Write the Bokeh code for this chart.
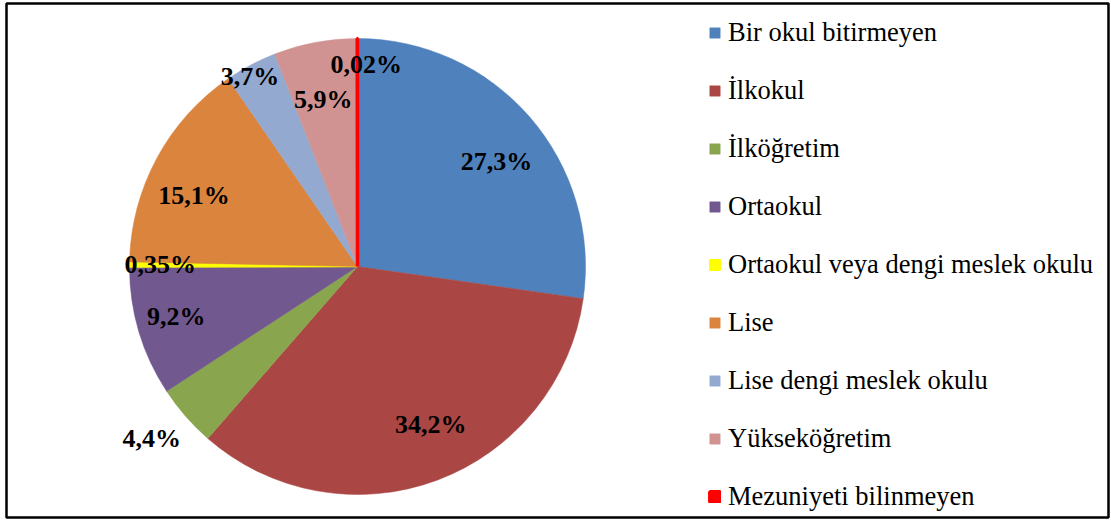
import numpy as np
import pandas as pd
from bokeh.plotting import figure
from bokeh.models import ColumnDataSource, Range1d, Legend, LegendItem
from bokeh.core.properties import value
from bokeh.embed import file_html
from bokeh.resources import INLINE

categories = ["Bir okul bitirmeyen", "İlkokul", "İlköğretim", "Ortaokul",
              "Ortaokul veya dengi meslek okulu", "Lise", "Lise dengi meslek okulu",
              "Yükseköğretim", "Mezuniyeti bilinmeyen"]
values = [27.3, 34.2, 4.4, 9.2, 0.35, 15.1, 3.7, 5.9, 0.02]
labels = ["27,3%", "34,2%", "4,4%", "9,2%", "0,35%", "15,1%", "3,7%", "5,9%", "0,02%"]

colors = ["#4F81BD", "#AA4643", "#89A54E", "#71588F", "#FFFF00",
          "#DB843D", "#93A9CF", "#D19392", "#FF0000"]
line_widths = [0.5, 0.5, 0.5, 0.5, 1.5, 0.5, 0.5, 0.5, 3.5]
label_radius_frac = [0.76, 0.77, 1.18, 0.82, 0.87, 0.78, 0.96, 0.74, 0.88]
label_dx = [8, 12, -3, -2, 1, -7, -5, -3, 9]
label_dy = [9, -7, -5, -4, 0, 13, 3, -1, -1]

FONT = "Liberation Serif"

W, H = 1111, 520
BL, BT, BR, BB = 6, 3, 3, 3
cx, cy, R = 357, -266, 228

df = pd.DataFrame({"cat": categories, "val": values, "label": labels,
                   "color": colors, "lw": line_widths})
frac = df["val"] / df["val"].sum()
cum = frac.cumsum()
prev = cum - frac
df["start"] = np.pi / 2 - cum * 2 * np.pi
df["end"] = np.pi / 2 - prev * 2 * np.pi
mid = np.pi / 2 - (prev + frac / 2) * 2 * np.pi
rf = np.array(label_radius_frac)
df["lx"] = cx + R * rf * np.cos(mid) + np.array(label_dx)
df["ly"] = cy + R * rf * np.sin(mid) - np.array(label_dy)
df["x"] = cx
df["y"] = cy

src = ColumnDataSource(df)

p = figure(width=W, height=H, output_backend="svg", toolbar_location=None,
           x_range=Range1d(BL, W - BR), y_range=Range1d(-(H - BB), -BT),
           min_border_left=BL, min_border_right=BR,
           min_border_top=BT, min_border_bottom=BB)
p.axis.visible = False
p.grid.visible = False
p.outline_line_color = "black"
p.outline_line_width = 2.5
p.background_fill_color = "white"

items = []
for i in range(len(df)):
    s = ColumnDataSource(df.iloc[[i]])
    r = p.wedge(x="x", y="y", radius=R, start_angle="start", end_angle="end",
                fill_color="color", line_color="color", line_width="lw", source=s)
    items.append(LegendItem(label=categories[i], renderers=[r]))

p.text(x="lx", y="ly", text="label", source=src,
       text_font=value(FONT), text_font_style="bold",
       text_font_size="26px", text_align="center", text_baseline="middle",
       text_color="black")

legend = Legend(items=items, location=(702, 5),
                glyph_width=13, glyph_height=13, label_standoff=7,
                label_text_font=FONT, label_text_font_size="26.5px",
                label_text_color="black", label_height=20, spacing=27,
                border_line_color=None, background_fill_alpha=0, padding=10, margin=0)
p.add_layout(legend)

open("out.html", "w").write(file_html(p, INLINE))
